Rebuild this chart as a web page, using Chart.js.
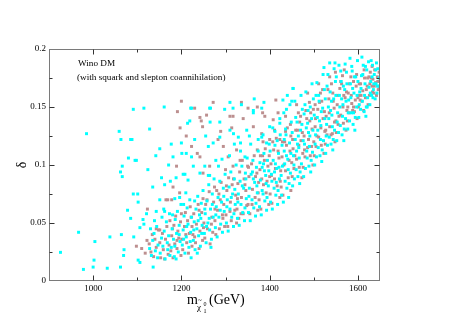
<!DOCTYPE html>
<html>
<head>
<meta charset="utf-8">
<script src="https://cdn.jsdelivr.net/npm/chart.js@4/dist/chart.umd.min.js"></script>
<style>
html,body{margin:0;padding:0;background:#fff;}
canvas{display:block;}
</style>
</head>
<body>
<canvas id="c" width="468" height="331"></canvas>
<script>
// ---- data (m_chi [GeV], delta) ----
const xMajorTicks = [1000, 1200, 1400, 1600];
const xMinorTicks = [1100, 1300, 1500];
const yMajorTicks = [0, 0.05, 0.1, 0.15, 0.2];
const yMinorTicks = [0.025, 0.075, 0.125, 0.175];

const cyanPoints = [
 [926,0.0247],[967,0.042],[978,0.010],[985,0.127],[1000,0.012],[1002,0.018],[1004,0.034],[1032,0.011],[1038,0.038],
 [1059,0.129],[1063,0.122],[1062,0.094],[1066,0.090],[1066,0.099],[1064,0.040],[1062,0.012],[1070,0.027],[1069,0.022],
 [1078,0.061],[1080,0.106],[1085,0.122],[1088,0.122],[1091,0.075],[1091,0.148],[1085,0.054],[1092,0.038],[1095,0.104],
 [1098,0.104],[1101,0.075],[1102,0.068],[1102,0.018],[1106,0.016],[1106,0.046],[1115,0.149],[1115,0.049],[1124,0.096],
 [1128,0.131],[1135,0.081],[1136,0.012],[1142,0.108],[1151,0.114],[1155,0.089],[1161,0.150],[1162,0.060],[1171,0.100],
 [1177,0.118],[1185,0.071],[1188,0.089],[1200,0.119],[1201,0.110],[1204,0.092],[1214,0.136],[1221,0.149],[1230,0.122],
 [1223,0.107],[1266,0.149],[1310,0.154],[1336,0.152],[1365,0.157],[1387,0.154],[1430,0.156],[1450,0.155],[1453,0.166],
 [1255,0.125],[1261,0.116],[1272,0.119],[1265,0.137],[1287,0.137],[1287,0.124],[1298,0.148],[1310,0.130],[1318,0.127],
 [1320,0.118],[1329,0.124],[1334,0.119],[1344,0.107],[1348,0.130],[1354,0.125],[1363,0.145],[1374,0.122],[1385,0.126],
 [1393,0.119],[1400,0.133],[1412,0.129],[1423,0.136],[1433,0.122],[1438,0.148],[1211,0.110],[1227,0.099],[1242,0.093],
 [1253,0.099],[1264,0.091],[1278,0.104],[1215,0.087],[1208,0.092],[1181,0.107],[1175,0.086],[1162,0.083],[1143,0.060],
 [1151,0.070],[1121,0.058],[1113,0.053],[1219,0.138],[1264,0.149],[1223,0.149],[1317,0.149],[1363,0.147],[1382,0.149],
 [1128,0.028],[1132,0.022],[1135,0.035],[1138,0.041],[1141,0.026],[1144,0.047],[1147,0.031],[1130,0.045],[1146,0.020],[1139,0.052],
 [1152,0.024],[1155,0.037],[1158,0.030],[1161,0.043],[1163,0.019],[1166,0.051],[1169,0.027],[1171,0.039],[1173,0.058],[1156,0.055],[1168,0.033],[1174,0.022],[1160,0.062],
 [1177,0.029],[1179,0.045],[1182,0.036],[1184,0.021],[1186,0.053],[1189,0.041],[1191,0.060],[1193,0.025],[1195,0.048],[1197,0.034],[1199,0.066],[1180,0.057],[1188,0.019],[1196,0.072],
 [1202,0.031],[1204,0.044],[1206,0.056],[1208,0.024],[1211,0.038],[1213,0.063],[1215,0.049],[1217,0.029],[1219,0.070],[1221,0.042],[1223,0.055],[1210,0.076],[1222,0.020],[1205,0.066],
 [1227,0.035],[1229,0.051],[1231,0.027],[1233,0.062],[1235,0.045],[1237,0.073],[1239,0.039],[1241,0.057],[1243,0.030],[1245,0.067],[1247,0.048],[1249,0.078],[1236,0.024],[1244,0.054],[1230,0.069],
 [1252,0.041],[1254,0.058],[1256,0.033],[1258,0.069],[1260,0.050],[1262,0.083],[1264,0.044],[1266,0.062],[1268,0.036],[1270,0.075],[1272,0.055],[1274,0.088],[1257,0.047],[1267,0.029],[1261,0.091],
 [1277,0.046],[1279,0.064],[1281,0.038],[1283,0.072],[1285,0.055],[1287,0.086],[1289,0.049],[1291,0.068],[1293,0.042],[1295,0.080],[1297,0.060],[1299,0.092],[1284,0.099],[1292,0.105],
 [1302,0.050],[1304,0.070],[1306,0.043],[1308,0.081],[1310,0.062],[1312,0.094],[1314,0.055],[1316,0.075],[1318,0.047],[1320,0.088],[1322,0.066],[1324,0.100],[1309,0.108],[1319,0.058],
 [1327,0.054],[1329,0.075],[1331,0.048],[1333,0.086],[1335,0.066],[1337,0.099],[1339,0.059],[1341,0.080],[1343,0.052],[1345,0.093],[1347,0.071],[1349,0.106],[1334,0.112],[1344,0.063],
 [1352,0.059],[1354,0.080],[1356,0.052],[1358,0.092],[1360,0.070],[1362,0.104],[1364,0.063],[1366,0.085],[1368,0.056],[1370,0.098],[1372,0.076],[1374,0.112],[1357,0.118],[1369,0.067],[1363,0.088],
 [1377,0.064],[1379,0.087],[1381,0.057],[1383,0.098],[1385,0.075],[1387,0.110],[1389,0.069],[1391,0.091],[1393,0.061],[1395,0.104],[1397,0.082],[1399,0.118],[1382,0.124],[1394,0.072],[1388,0.095],
 [1402,0.068],[1404,0.092],[1406,0.062],[1408,0.104],[1410,0.080],[1412,0.117],[1414,0.074],[1416,0.097],[1418,0.066],[1420,0.110],[1422,0.088],[1424,0.126],[1407,0.132],[1419,0.078],[1413,0.101],[1423,0.140],
 [1427,0.074],[1429,0.099],[1431,0.068],[1433,0.112],[1435,0.086],[1437,0.126],[1439,0.080],[1441,0.105],[1443,0.072],[1445,0.119],[1447,0.093],[1449,0.137],[1432,0.145],[1444,0.084],[1438,0.108],[1446,0.152],[1440,0.160],
 [1452,0.082],[1454,0.108],[1456,0.088],[1458,0.122],[1460,0.096],[1462,0.137],[1464,0.090],[1466,0.115],[1468,0.084],[1470,0.130],[1472,0.101],[1474,0.148],[1457,0.155],[1469,0.094],[1463,0.118],[1471,0.160],[1453,0.166],
 [1477,0.090],[1479,0.118],[1481,0.097],[1483,0.132],[1485,0.106],[1487,0.147],[1489,0.099],[1491,0.125],[1493,0.094],[1495,0.140],[1497,0.111],[1499,0.157],[1482,0.163],[1494,0.104],[1488,0.128],[1496,0.170],[1480,0.152],
 [1502,0.100],[1504,0.126],[1506,0.107],[1508,0.141],[1510,0.115],[1512,0.155],[1514,0.108],[1516,0.134],[1518,0.103],[1520,0.149],[1522,0.121],[1524,0.165],[1507,0.171],[1519,0.113],[1513,0.138],[1521,0.178],[1505,0.160],[1523,0.184],
 [1527,0.110],[1529,0.135],[1531,0.117],[1533,0.150],[1535,0.124],[1537,0.163],[1539,0.118],[1541,0.143],[1543,0.113],[1545,0.157],[1547,0.130],[1549,0.172],[1532,0.178],[1544,0.122],[1538,0.147],[1546,0.183],[1530,0.168],[1536,0.188],[1548,0.188],
 [1552,0.121],[1554,0.145],[1556,0.128],[1558,0.160],[1560,0.134],[1562,0.172],[1564,0.126],[1566,0.152],[1568,0.121],[1570,0.165],[1572,0.140],[1574,0.180],[1557,0.186],[1569,0.131],[1563,0.157],[1571,0.187],
 [1577,0.131],[1579,0.156],[1581,0.138],[1583,0.170],[1585,0.145],[1587,0.181],[1589,0.135],[1591,0.162],[1593,0.130],[1595,0.176],[1597,0.150],[1599,0.190],[1582,0.192],[1594,0.141],[1588,0.166],
 [1602,0.141],[1604,0.163],[1606,0.148],[1608,0.177],[1610,0.155],[1612,0.186],[1614,0.146],[1616,0.170],[1618,0.142],[1620,0.182],[1622,0.158],[1624,0.189],[1609,0.193],[1619,0.150],
 [1627,0.152],[1629,0.172],[1631,0.160],[1633,0.186],[1635,0.165],[1637,0.178],[1639,0.157],[1641,0.170],[1643,0.162],[1645,0.183],[1647,0.168],[1630,0.190],[1642,0.188],
 [1383,0.078],[1386,0.101],[1392,0.084],[1398,0.095],[1401,0.112],[1405,0.086],[1411,0.094],[1415,0.085],[1417,0.121],[1421,0.098],[1426,0.091],[1428,0.117],
 [1434,0.101],[1436,0.131],[1442,0.096],[1448,0.110],[1451,0.128],[1455,0.100],[1459,0.141],[1461,0.112],[1465,0.125],[1467,0.106],[1473,0.135],[1476,0.121],
 [1478,0.144],[1484,0.112],[1486,0.136],[1490,0.116],[1492,0.150],[1498,0.130],[1501,0.143],[1503,0.118],[1509,0.130],[1511,0.160],[1515,0.122],[1517,0.146],
 [1525,0.140],[1526,0.157],[1528,0.125],[1534,0.140],[1540,0.155],[1542,0.133],[1550,0.160],[1551,0.176],[1553,0.137],[1559,0.150],[1561,0.181],[1565,0.142],
 [1567,0.168],[1573,0.155],[1575,0.170],[1578,0.145],[1584,0.158],[1586,0.185],[1590,0.145],[1592,0.176],[1598,0.160],[1600,0.172],[1603,0.152],[1607,0.166],
 [1611,0.178],[1615,0.160],[1617,0.185],[1621,0.150],[1625,0.167],[1628,0.162],[1632,0.176],[1636,0.170],[1640,0.182],[1644,0.168],[1648,0.175],[1634,0.158],
 [1185,0.030],[1195,0.040],[1205,0.036],[1212,0.047],[1220,0.034],[1228,0.044],[1238,0.052],[1246,0.041],[1253,0.062],[1263,0.054],[1270,0.066],[1278,0.057],
 [1288,0.061],[1296,0.073],[1303,0.064],[1313,0.072],[1321,0.079],[1328,0.068],[1338,0.082],[1346,0.088],[1353,0.073],[1361,0.094],[1371,0.082],[1378,0.102]
];

const greyPoints = [
 [1098,0.030],[1123,0.062],[1169,0.070],[1178,0.070],[1191,0.146],[1197,0.132],[1200,0.155],[1230,0.149],[1245,0.138],
 [1248,0.133],[1236,0.110],[1272,0.154],[1289,0.129],[1310,0.142],[1314,0.132],[1336,0.154],[1351,0.149],[1372,0.150],
 [1384,0.145],[1414,0.156],[1419,0.145],
 [1242,0.141],[1257,0.143],[1283,0.122],[1295,0.116],[1306,0.107],[1317,0.142],[1325,0.113],[1333,0.104],[1340,0.140],
 [1363,0.133],[1372,0.113],[1382,0.127],[1389,0.142],[1400,0.122],[1408,0.139],[1423,0.122],[1436,0.129],[1242,0.107],
 [1249,0.093],[1264,0.099],[1211,0.125],[1223,0.116],[1189,0.099],[1181,0.081],[1196,0.076],[1165,0.070],[1143,0.045],[1151,0.044],
 [1110,0.028],[1118,0.024],[1122,0.035],
 [1127,0.032],[1131,0.025],[1134,0.040],[1137,0.021],[1140,0.036],[1143,0.029],[1148,0.044],
 [1151,0.033],[1153,0.020],[1157,0.041],[1159,0.027],[1162,0.019],[1164,0.036],[1167,0.047],[1170,0.023],[1172,0.031],[1174,0.052],
 [1176,0.026],[1178,0.039],[1181,0.020],[1183,0.048],[1185,0.032],[1187,0.056],[1190,0.028],[1192,0.043],[1194,0.037],[1198,0.051],[1199,0.022],
 [1201,0.036],[1203,0.027],[1207,0.047],[1209,0.059],[1212,0.033],[1214,0.052],[1216,0.024],[1218,0.041],[1220,0.064],[1224,0.030],[1224,0.047],
 [1226,0.040],[1228,0.058],[1232,0.033],[1234,0.049],[1238,0.066],[1240,0.028],[1242,0.043],[1246,0.059],[1248,0.035],[1249,0.071],
 [1251,0.050],[1253,0.037],[1255,0.066],[1259,0.045],[1263,0.077],[1265,0.032],[1269,0.055],[1271,0.042],[1273,0.068],[1275,0.081],
 [1276,0.052],[1278,0.040],[1280,0.078],[1282,0.061],[1286,0.045],[1288,0.070],[1290,0.085],[1294,0.054],[1296,0.066],[1298,0.047],[1300,0.096],
 [1301,0.057],[1303,0.078],[1305,0.047],[1307,0.089],[1311,0.068],[1313,0.052],[1315,0.083],[1317,0.099],[1321,0.061],[1323,0.074],[1325,0.050],
 [1326,0.062],[1328,0.084],[1330,0.054],[1332,0.094],[1336,0.072],[1338,0.104],[1340,0.058],[1342,0.088],[1346,0.078],[1348,0.065],[1350,0.099],
 [1351,0.066],[1353,0.090],[1355,0.058],[1359,0.101],[1361,0.079],[1365,0.108],[1367,0.072],[1371,0.093],[1373,0.061],[1375,0.085],
 [1376,0.070],[1378,0.096],[1380,0.062],[1384,0.108],[1386,0.083],[1390,0.114],[1392,0.076],[1396,0.099],[1398,0.066],[1400,0.090],[1385,0.120],
 [1401,0.075],[1403,0.101],[1405,0.067],[1409,0.113],[1411,0.088],[1415,0.123],[1417,0.082],[1421,0.106],[1423,0.072],[1425,0.095],[1411,0.130],
 [1426,0.081],[1428,0.107],[1430,0.074],[1434,0.120],[1436,0.095],[1440,0.132],[1442,0.089],[1446,0.112],[1448,0.078],[1450,0.102],[1436,0.142],[1448,0.125],
 [1451,0.090],[1453,0.114],[1455,0.097],[1459,0.130],[1461,0.105],[1465,0.145],[1467,0.098],[1471,0.121],[1473,0.089],[1475,0.110],[1461,0.152],[1468,0.137],
 [1476,0.098],[1478,0.125],[1480,0.107],[1484,0.140],[1486,0.115],[1490,0.154],[1492,0.108],[1496,0.131],[1498,0.100],[1500,0.120],[1486,0.162],[1493,0.145],
 [1501,0.108],[1503,0.133],[1505,0.116],[1509,0.148],[1511,0.124],[1515,0.162],[1517,0.117],[1521,0.140],[1523,0.110],[1525,0.129],[1511,0.170],[1518,0.155],[1503,0.152],
 [1526,0.118],[1528,0.142],[1530,0.126],[1534,0.157],[1536,0.133],[1540,0.170],[1542,0.127],[1546,0.149],[1548,0.120],[1550,0.138],[1536,0.176],[1543,0.162],
 [1551,0.128],[1553,0.152],[1555,0.135],[1559,0.166],[1561,0.143],[1565,0.177],[1567,0.136],[1571,0.158],[1573,0.130],[1575,0.147],[1561,0.172],[1568,0.160],
 [1576,0.138],[1578,0.162],[1580,0.145],[1584,0.176],[1586,0.153],[1590,0.150],[1592,0.146],[1596,0.168],[1598,0.140],[1600,0.158],[1590,0.172],
 [1601,0.150],[1603,0.170],[1605,0.156],[1607,0.160],[1611,0.164],[1615,0.175],[1617,0.158],[1621,0.168],[1623,0.152],[1625,0.176],[1613,0.147],
 [1626,0.160],[1628,0.180],[1632,0.168],[1634,0.174],[1636,0.162],[1638,0.182],[1640,0.171],[1644,0.176],[1646,0.165],[1648,0.180],[1632,0.185],
 [1382,0.088],[1388,0.104],[1394,0.086],[1399,0.108],[1404,0.091],[1407,0.120],[1413,0.097],[1419,0.112],[1424,0.086],[1429,0.120],[1432,0.100],[1438,0.117],
 [1444,0.104],[1447,0.135],[1452,0.122],[1457,0.108],[1463,0.130],[1466,0.117],[1470,0.142],[1474,0.128],[1479,0.113],[1482,0.147],[1488,0.122],[1491,0.138],
 [1495,0.116],[1499,0.148],[1504,0.140],[1507,0.125],[1513,0.154],[1516,0.132],[1520,0.165],[1524,0.146],[1527,0.130],[1532,0.165],[1535,0.145],[1539,0.126],
 [1544,0.155],[1547,0.137],[1549,0.180],[1554,0.160],[1557,0.142],[1563,0.170],[1566,0.150],[1569,0.182],[1574,0.163],[1577,0.150],[1581,0.170],[1585,0.160],
 [1588,0.147],[1594,0.156],[1597,0.178],[1602,0.160],[1606,0.170],[1609,0.155],[1614,0.182],[1619,0.165],[1622,0.175],[1627,0.170],[1630,0.175],[1633,0.163],
 [1637,0.168],[1642,0.160],[1645,0.172],[1649,0.167],
 [1180,0.045],[1190,0.035],[1200,0.058],[1210,0.040],[1222,0.055],[1230,0.038],[1240,0.061],[1250,0.046],[1258,0.070],[1268,0.049],[1276,0.062],[1285,0.075],
 [1293,0.057],[1302,0.082],[1310,0.060],[1318,0.088],[1327,0.071],[1335,0.058],[1344,0.083],[1352,0.098],[1360,0.066],[1368,0.090],[1374,0.076],[1379,0.108]
];

const toXY = arr => arr.map(p => ({x: p[0], y: p[1]}));
const SERIF = '"Liberation Serif", "DejaVu Serif", serif';

const decor = {
  id: 'decor',
  afterDraw(chart) {
    const {ctx, chartArea: a, scales: {x, y}} = chart;
    ctx.save();
    const L = Math.round(a.left) + 0.5, R = Math.round(a.right) - 0.5;
    const T = Math.round(a.top) + 0.5, B = Math.round(a.bottom) - 0.5;
    ctx.strokeStyle = '#7a7a7a'; ctx.lineWidth = 1;
    ctx.strokeRect(L, T, R - L, B - T);
    ctx.strokeStyle = '#333';
    ctx.beginPath();
    const vt = (vals, len) => vals.forEach(v => {
      const px = Math.round(x.getPixelForValue(v)) + 0.5;
      ctx.moveTo(px, B); ctx.lineTo(px, B - len);
      ctx.moveTo(px, T); ctx.lineTo(px, T + len);
    });
    const ht = (vals, len) => vals.forEach(v => {
      const py = Math.round(y.getPixelForValue(v)) + 0.5;
      ctx.moveTo(L, py); ctx.lineTo(L + len, py);
      ctx.moveTo(R, py); ctx.lineTo(R - len, py);
    });
    vt(xMajorTicks, 5); vt(xMinorTicks, 3);
    ht(yMajorTicks.slice(1, -1), 5); ht(yMinorTicks, 3);
    ctx.stroke();

    ctx.fillStyle = '#000';
    ctx.textBaseline = 'alphabetic';
    ctx.textAlign = 'left';
    ctx.font = '9.2px ' + SERIF;
    ctx.fillText('Wino DM', 78, 66);
    ctx.fillText('(with squark and slepton coannihilation)', 77, 80);

    // x-axis title
    ctx.font = '14px ' + SERIF;
    ctx.fillText('m', 187, 304);
    ctx.font = '9px ' + SERIF;
    ctx.fillText('\u03C7', 197, 310);
    ctx.font = '7px ' + SERIF;
    ctx.fillText('~', 198, 302);
    ctx.font = '6px ' + SERIF;
    ctx.fillText('0', 203.5, 306);
    ctx.fillText('1', 203.5, 313);
    ctx.font = '14px ' + SERIF;
    ctx.fillText('(GeV)', 209, 304);

    // y-axis title
    ctx.save();
    ctx.translate(26, 165);
    ctx.rotate(-Math.PI / 2);
    ctx.textAlign = 'center';
    ctx.font = '14px ' + SERIF;
    ctx.fillText('\u03B4', 0, 0);
    ctx.restore();
    ctx.restore();
  }
};

new Chart(document.getElementById('c'), {
  type: 'scatter',
  data: {
    datasets: [
      {label: 'cyan', data: toXY(cyanPoints), backgroundColor: '#00ffff', borderWidth: 0, pointRadius: 2.1, pointStyle: 'rect'},
      {label: 'grey', data: toXY(greyPoints), backgroundColor: '#bc8f8f', borderWidth: 0, pointRadius: 2.1, pointStyle: 'rect'}
    ]
  },
  options: {
    responsive: false,
    animation: false,
    devicePixelRatio: 1,
    layout: {padding: {left: 0, top: 49, right: 88, bottom: 0}},
    plugins: {legend: {display: false}, tooltip: {enabled: false}},
    scales: {
      x: {
        type: 'linear', min: 900, max: 1650,
        grid: {display: false, drawTicks: false},
        border: {display: false},
        ticks: {font: {family: SERIF, size: 9}, color: '#000', padding: 2, maxRotation: 0, autoSkip: false,
                callback: v => String(v)},
        afterBuildTicks: s => { s.ticks = xMajorTicks.map(v => ({value: v})); },
        afterFit: s => { s.height = 50; }
      },
      y: {
        type: 'linear', min: 0, max: 0.2,
        grid: {display: false, drawTicks: false},
        border: {display: false},
        ticks: {font: {family: SERIF, size: 9}, color: '#000', padding: 3, autoSkip: false,
                callback: v => String(+v.toFixed(3))},
        afterBuildTicks: s => { s.ticks = yMajorTicks.map(v => ({value: v})); },
        afterFit: s => { s.width = 49; }
      }
    }
  },
  plugins: [decor]
});
</script>
</body>
</html>
